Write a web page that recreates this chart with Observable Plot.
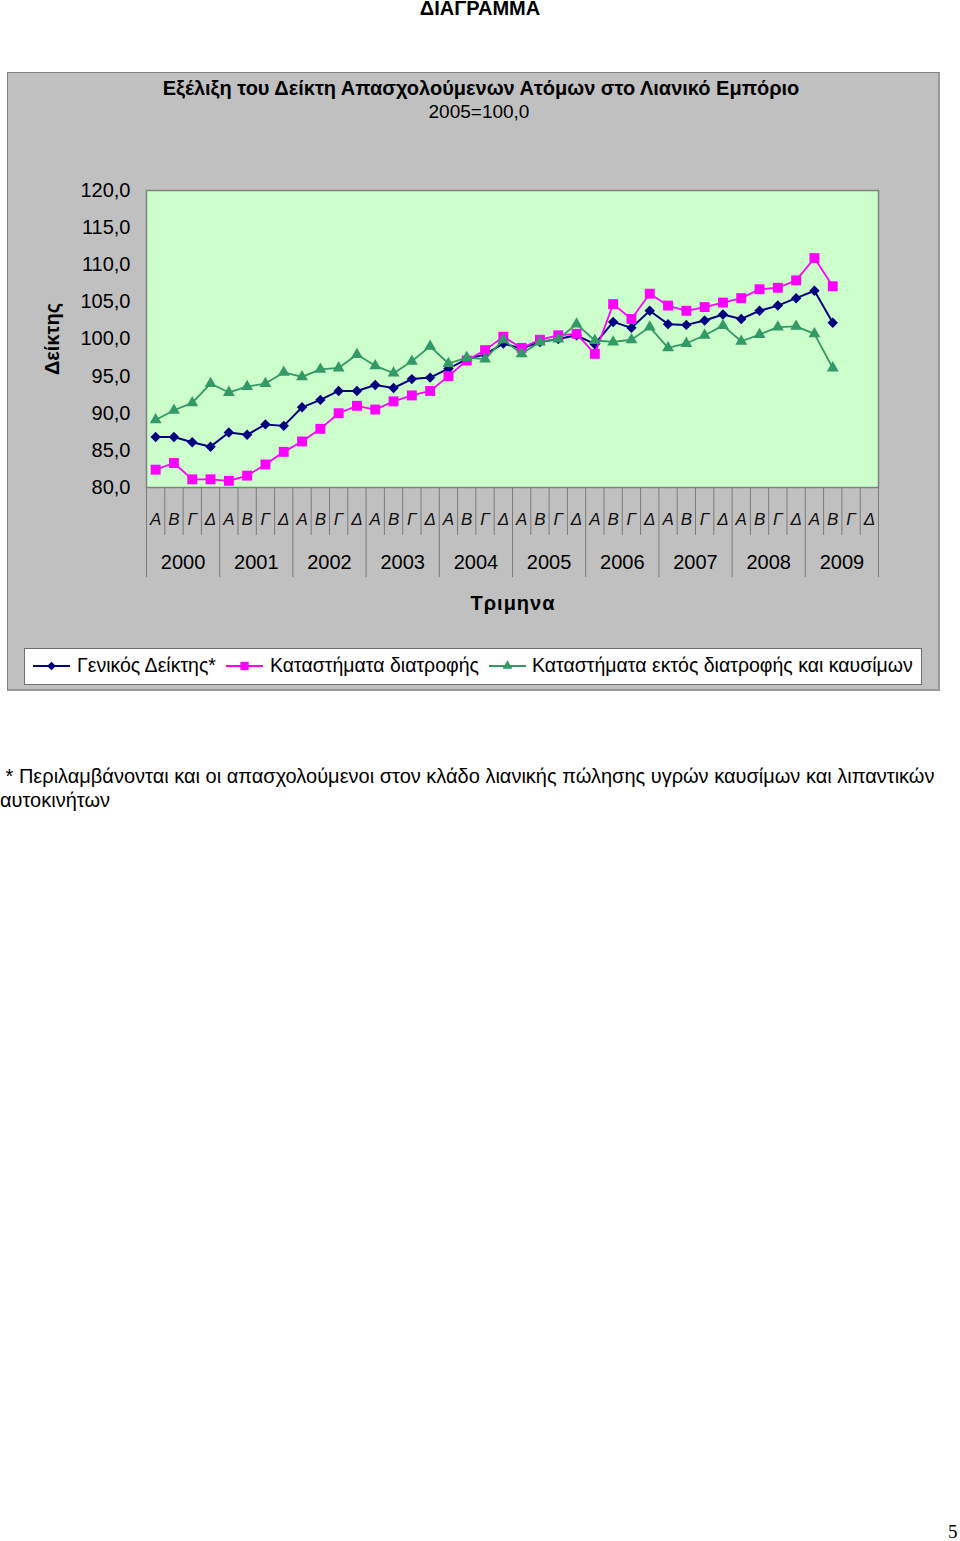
<!DOCTYPE html>
<html>
<head>
<meta charset="utf-8">
<script src="https://cdn.jsdelivr.net/npm/d3@7"></script>
<script src="https://cdn.jsdelivr.net/npm/@observablehq/plot@0.6"></script>
<style>
  body { margin:0; width:960px; height:1541px; position:relative; background:#fff; font-family:"Liberation Sans", Arial, sans-serif; color:#000; overflow:hidden; }
  .abs { position:absolute; white-space:nowrap; }
</style>
</head>
<body>
<div class="abs" style="top:-3px;left:0;width:960px;text-align:center;font-weight:bold;font-size:20px;line-height:22px;">ΔΙΑΓΡΑΜΜΑ</div>

<div class="abs" style="left:7px;top:72px;width:933px;height:619px;box-sizing:border-box;background:#c0c0c0;border:1px solid #808080;border-right:2px solid #9a9a9a;border-bottom:2px solid #9a9a9a;"></div>

<div class="abs" style="top:77px;left:0;width:962px;text-align:center;font-weight:bold;font-size:20px;line-height:22px;">Εξέλιξη του Δείκτη Απασχολούμενων Ατόμων στο Λιανικό Εμπόριο</div>
<div class="abs" style="top:102px;left:0;width:958px;text-align:center;font-size:19px;line-height:20px;">2005=100,0</div>

<div id="chart" class="abs" style="left:8px;top:150px;"></div>

<div class="abs" style="left:52px;top:339px;transform:translate(-50%,-50%) rotate(-90deg);font-weight:bold;font-size:20px;line-height:22px;">Δείκτης</div>
<div class="abs" style="left:513px;top:603px;transform:translate(-50%,-50%);font-weight:bold;font-size:20px;line-height:22px;letter-spacing:1px;">Τριμηνα</div>

<div id="legend" class="abs" style="left:24px;top:648px;width:898px;height:37px;box-sizing:border-box;background:#fff;border:1px solid #707070;"></div>

<div class="abs" style="left:0;top:764px;font-size:20px;line-height:24px;">&nbsp;* Περιλαμβάνονται και οι απασχολούμενοι στον κλάδο λιανικής πώλησης υγρών καυσίμων και λιπαντικών<br>αυτοκινήτων</div>

<div class="abs" style="left:948px;top:1521px;font-family:'Liberation Serif','DejaVu Serif',serif;font-size:19px;line-height:22px;">5</div>

<script>
// ---- data ----
const quarters = ["Α", "Β", "Γ", "Δ"];
const years = [2000, 2001, 2002, 2003, 2004, 2005, 2006, 2007, 2008, 2009];
const yTicks = [80, 85, 90, 95, 100, 105, 110, 115, 120];
const seriesNames = ["Γενικός Δείκτης*", "Καταστήματα διατροφής", "Καταστήματα εκτός διατροφής και καυσίμων"];
const general = [86.8, 86.8, 86.1, 85.5, 87.4, 87.1, 88.5, 88.3, 90.8, 91.8,
  93.0, 93.0, 93.8, 93.4, 94.6, 94.8, 96.0, 97.3, 97.9, 99.4,
  98.7, 99.6, 100.0, 100.5, 99.3, 102.3, 101.5, 103.8, 102.0, 101.9,
  102.5, 103.3, 102.7, 103.8, 104.5, 105.5, 106.5, 102.2];
const food = [82.4, 83.3, 81.1, 81.1, 80.9, 81.6, 83.1, 84.8, 86.2, 87.9,
  90.0, 91.0, 90.5, 91.6, 92.4, 93.0, 95.0, 97.1, 98.5, 100.3,
  98.8, 99.9, 100.5, 100.7, 98.0, 104.7, 102.7, 106.1, 104.5, 103.8,
  104.3, 104.9, 105.5, 106.7, 106.9, 107.9, 110.9, 107.1];
const nonFood = [89.1, 90.4, 91.4, 94.0, 92.8, 93.6, 94.0, 95.5, 94.9, 95.9,
  96.1, 97.9, 96.4, 95.4, 97.0, 99.0, 96.7, 97.5, 97.3, 99.9,
  98.0, 99.6, 100.0, 102.0, 99.8, 99.6, 99.9, 101.6, 98.8, 99.4,
  100.5, 101.8, 99.7, 100.6, 101.6, 101.7, 100.7, 96.1];

// ---- derived tables ----
const styles = [
  {name: seriesNames[0], values: general, color: "#000080", symbol: "diamond2", r: 4.7, sw: 2},
  {name: seriesNames[1], values: food, color: "#ff00ff", symbol: "square", r: 5.6, sw: 1.8},
  {name: seriesNames[2], values: nonFood, color: "#339966", symbol: "triangle", r: 4.4, sw: 1.8}
];
const slots = years.flatMap((y, yi) => quarters.map((q, qi) => ({i: yi * 4 + qi, q, year: y})));
const yearLabels = years.map((y, yi) => ({x: yi * 4 + 1.5, year: String(y)}));
const bounds = d3.range(0, slots.length + 1).map(k => k - 0.5);
const yearBounds = bounds.filter((b, k) => k % 4 === 0);
const quarterBounds = bounds.filter((b, k) => k % 4 !== 0);
const fmt = d => d.toFixed(1).replace(".", ",");

const seriesMarks = styles.flatMap(s => {
  const rows = s.values.map((v, i) => ({i, v}));
  return [
    Plot.line(rows, {x: "i", y: "v", stroke: s.color, strokeWidth: s.sw}),
    Plot.dot(rows, {x: "i", y: "v", symbol: s.symbol, r: s.r, fill: s.color})
  ];
});

const chart = Plot.plot({
  width: 930,
  height: 470,
  marginLeft: 138,
  marginRight: 60,
  marginTop: 40,
  marginBottom: 133,
  style: {background: "transparent", fontFamily: "'Liberation Sans', Arial, sans-serif", fontSize: "20px", color: "#000", overflow: "visible"},
  x: {type: "linear", domain: [-0.5, slots.length - 0.5], axis: null},
  y: {domain: [80, 120]},
  marks: [
    Plot.frame({fill: "#ccffcc", stroke: "#808080", strokeWidth: 1.5}),
    Plot.axisY({ticks: yTicks, tickFormat: fmt, tickSize: 0, tickPadding: 16, fontSize: 20, label: null}),
    Plot.ruleX(quarterBounds, {x: d => d, insetTop: 297, insetBottom: -48, stroke: "#7a7a7a", strokeWidth: 1}),
    Plot.ruleX(yearBounds, {x: d => d, insetTop: 297, insetBottom: -90, stroke: "#7a7a7a", strokeWidth: 1}),
    Plot.text(slots, {x: "i", text: "q", frameAnchor: "bottom", dy: 37, fontStyle: "italic", fontSize: 17, fill: "#111"}),
    Plot.text(yearLabels, {x: "x", text: "year", frameAnchor: "bottom", dy: 81, fontSize: 20}),
    ...seriesMarks
  ]
});
document.getElementById("chart").appendChild(chart);

// ---- legend ----
const legend = document.getElementById("legend");
const legendPos = [{sw: 8, tx: 52}, {sw: 201, tx: 245}, {sw: 464, tx: 507}];
const symbolMap = {diamond2: d3.symbolDiamond2, square: d3.symbolSquare, triangle: d3.symbolTriangle};
styles.forEach((s, k) => {
  const p = legendPos[k];
  const svg = d3.create("svg").attr("width", 38).attr("height", 20)
    .style("position", "absolute").style("left", p.sw + "px").style("top", "7px");
  svg.append("line").attr("x1", 0).attr("x2", 37).attr("y1", 10).attr("y2", 10)
    .attr("stroke", s.color).attr("stroke-width", s.sw);
  svg.append("path").attr("transform", "translate(18.5,10)")
    .attr("d", d3.symbol(symbolMap[s.symbol], Math.PI * s.r * s.r * 0.7)())
    .attr("fill", s.color);
  legend.appendChild(svg.node());
  const t = document.createElement("div");
  t.className = "abs";
  t.style.cssText = `left:${p.tx}px;top:5px;font-size:19.5px;line-height:22px;`;
  t.textContent = s.name;
  legend.appendChild(t);
});
</script>
</body>
</html>
